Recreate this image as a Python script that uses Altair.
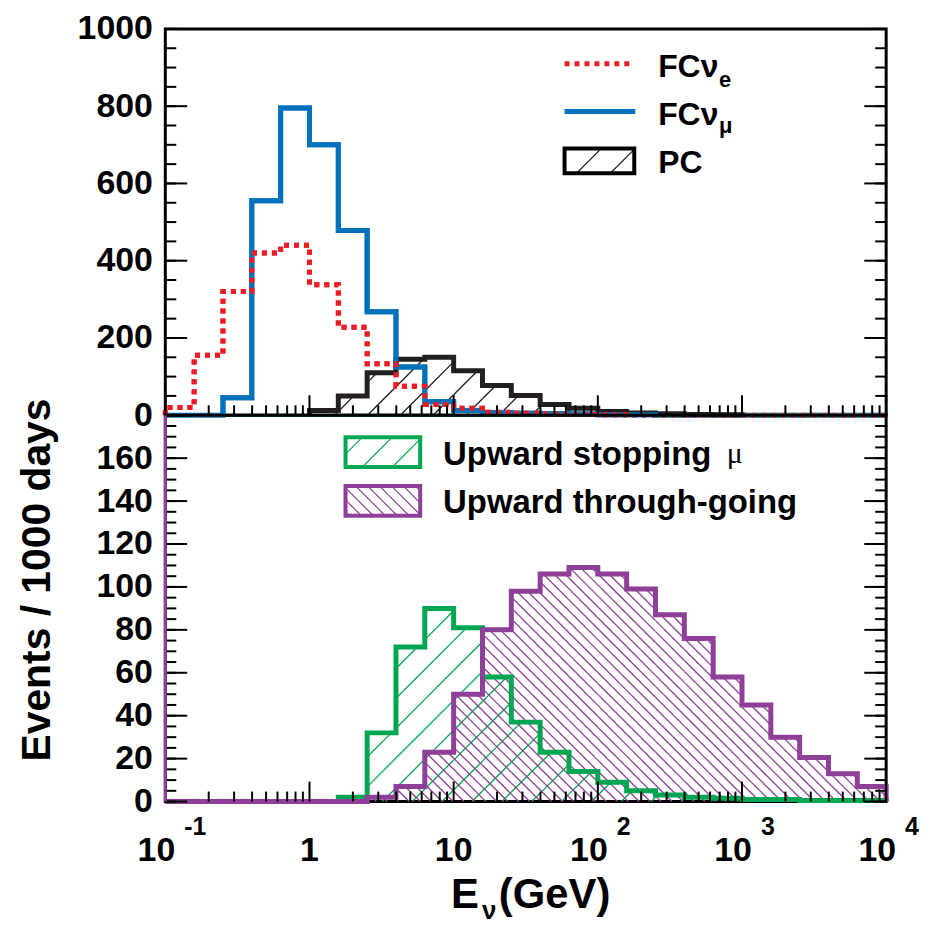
import math
import altair as alt
import pandas as pd

FONT = "Liberation Sans"
SERIF = "Liberation Serif"
BLACK = "#231f20"
RED = "#ed1c24"
BLUE = "#0072bc"
GREEN = "#00a651"
PURPLE = "#8e3f97"

# ------------------------------------------------------------------ data
# bin edges: 5 logarithmic bins per decade, 0.1 GeV .. 10^4 GeV (log10 of the edges)
EDGE_LOG = [-1 + k / 5 for k in range(26)]

FC_NUE = [20, 155, 320, 420, 440, 338, 228, 133, 75, 28, 18, 8, 5, 3, 2, 1,
          0, 0, 0, 0, 0, 0, 0, 0, 0]
FC_NUMU = [0, 0, 45, 555, 795, 700, 478, 268, 125, 35, 12, 7, 5, 4, 3, 1, 1,
           0, 0, 0, 0, 0, 0, 0, 0]
PC = [0, 0, 0, 0, 0, 12, 50, 110, 145, 150, 115, 77, 51, 28, 18, 10, 6, 4, 2, 1,
      0, 0, 0, 0, 0]
UP_STOP = [0, 0, 0, 0, 0, 0, 2, 32, 72, 90, 81, 58, 37, 23, 14, 9, 5, 3, 2, 1.5,
           1, 1, 0.5, 0.5, 0.5]
UP_THRU = [0, 0, 0, 0, 0, 0, 0, 2, 7, 23, 50, 80, 98, 106, 109, 106, 99, 87, 76,
           58, 45, 30, 20.5, 13, 7]

X_MAJOR = [0.1, 1, 10, 100, 1000, 10000]
X_MINOR = [m * 10.0 ** d for d in range(-1, 4) for m in range(2, 10)]
TOP_LABELS = [0, 200, 400, 600, 800, 1000]
TOP_MAJOR = [0, 200, 400, 600, 800, 1000]
TOP_MINOR = list(range(0, 1001, 50))
BOT_LABELS = [0, 20, 40, 60, 80, 100, 120, 140, 160]
BOT_MAJOR = list(range(0, 181, 20))
BOT_MINOR = list(range(0, 181, 5))
XLAB_PLAIN_V = [1, 10]
XLAB_PLAIN_T = ["1", "10"]
XLAB_EXP_V = [0.1, 100, 1000, 10000]
XLAB_EXP_B = ["10", "10", "10", "10"]
XLAB_EXP_E = ["-1", "2", "3", "4"]

# ------------------------------------------------------------------ layout
W, H1, H2 = 724, 388, 388
TOP_MAX, BOT_MAX = 1000, 180
UMIN, UMAX = -1.0, 4.0
PPD = W / (UMAX - UMIN)
DUMMY = pd.DataFrame({"d": [0]})

xscale = alt.Scale(type="log", domain=[0.1, 10000], nice=False)


def X(f):
    return alt.X(f"{f}:Q", scale=xscale, axis=None)


def make_y(ymax, labels, title):
    sc = alt.Scale(domain=[0, ymax], nice=False, zero=False)
    kw = dict(values=labels, format="d", ticks=False, tickSize=0, domain=False,
              grid=False, labelFont=FONT, labelFontSize=34, labelFontWeight="bold",
              labelColor="black", labelPadding=13)
    if title:
        ax = alt.Axis(title=title, titleFont=FONT, titleFontSize=41,
                      titleFontWeight="bold", titleColor="black", titleAngle=270,
                      titleX=-128, titleY=165, titleAlign="center",
                      titleBaseline="middle", **kw)
    else:
        ax = alt.Axis(title=None, **kw)

    def Y(f):
        return alt.Y(f"{f}:Q", scale=sc, axis=ax)
    return Y


def step_df(values, trim=False):
    lo, hi = 0, len(values) - 1
    if trim:
        nz = [i for i, v in enumerate(values) if v > 0]
        lo, hi = nz[0], nz[-1]
    xs, ys = [10 ** EDGE_LOG[lo]], [0]
    for i in range(lo, hi + 1):
        xs += [10 ** EDGE_LOG[i], 10 ** EDGE_LOG[i + 1]]
        ys += [values[i], values[i]]
    xs.append(10 ** EDGE_LOG[hi + 1])
    ys.append(0)
    return pd.DataFrame({"x": xs, "y": ys, "o": list(range(len(xs)))})


def hatch_segments(rects, spacing, direction, phase=0.0):
    """rects in math coords (y up): (x0, x1, y0, y1); returns list of segments."""
    rects = [r for r in rects if r[3] > r[2]]
    if not rects:
        return []
    xmin = min(r[0] for r in rects)
    xmax = max(r[1] for r in rects)
    ymin = min(r[2] for r in rects)
    ymax = max(r[3] for r in rects)
    if direction == "/":
        cmin, cmax = xmin - ymax, xmax - ymin
    else:
        cmin, cmax = xmin + ymin, xmax + ymax
    k0 = math.floor((cmin - phase) / spacing)
    k1 = math.ceil((cmax - phase) / spacing)
    segs = []
    for k in range(k0, k1 + 1):
        c = phase + k * spacing
        for (x0, x1, y0, y1) in rects:
            if direction == "/":
                a, b = max(x0, y0 + c), min(x1, y1 + c)
                if b - a > 1e-6:
                    segs.append((a, a - c, b, b - c))
            else:
                a, b = max(x0, c - y1), min(x1, c - y0)
                if b - a > 1e-6:
                    segs.append((a, c - a, b, c - b))
    return segs


def hist_hatch(values, ymax, H, spacing, direction, phase=0.0):
    rects = []
    for i, v in enumerate(values):
        x0 = (EDGE_LOG[i] - UMIN) * PPD
        x1 = (EDGE_LOG[i + 1] - UMIN) * PPD
        rects.append((x0, x1, 0.0, v * H / ymax))
    segs = hatch_segments(rects, spacing, direction, phase)
    rows = []
    for (a, ya, b, yb) in segs:
        rows.append({"x": 10 ** (UMIN + a / PPD), "y": ya * ymax / H,
                     "x2": 10 ** (UMIN + b / PPD), "y2": yb * ymax / H})
    return pd.DataFrame(rows)


def legend_hatch(sx0, sx1, sy0, sy1, spacing, direction, color, phase=0.0, sw=1.2):
    segs = hatch_segments([(sx0, sx1, -sy1, -sy0)], spacing, direction, phase)
    out = []
    for (a, ya, b, yb) in segs:
        out.append(alt.Chart(DUMMY).mark_rule(color=color, strokeWidth=sw).encode(
            x=alt.value(a), x2=alt.value(b), y=alt.value(-ya), y2=alt.value(-yb)))
    return out


def txt(s, x, y, size, align="left", font=FONT, weight="bold"):
    return alt.Chart(DUMMY).mark_text(
        text=s, align=align, baseline="alphabetic", font=font, fontSize=size,
        fontWeight=weight, color="black").encode(x=alt.value(x), y=alt.value(y))


def tick_layers(Y, H, y_major, y_minor):
    out = []
    for vals, ln in ((X_MAJOR, 20), (X_MINOR, 10)):
        out.append(alt.Chart(pd.DataFrame({"v": vals})).mark_rule(
            color="black", strokeWidth=2).encode(
            x=X("v"), y=alt.value(H), y2=alt.value(H - ln)))
    for vals, ln in ((y_major, 22), (y_minor, 11)):
        df = pd.DataFrame({"v": vals})
        out.append(alt.Chart(df).mark_rule(color="black", strokeWidth=2).encode(
            y=Y("v"), x=alt.value(0), x2=alt.value(ln)))
        out.append(alt.Chart(df).mark_rule(color="black", strokeWidth=2).encode(
            y=Y("v"), x=alt.value(W), x2=alt.value(W - ln)))
    return out


def outline(values, color, Y, dash=None, trim=False):
    kw = dict(color=color, strokeWidth=5, strokeJoin="miter", strokeCap="butt")
    if dash:
        kw["strokeDash"] = dash
    return alt.Chart(step_df(values, trim)).mark_line(**kw).encode(
        x=X("x"), y=Y("y"), order="o:Q")


def hatch_layer(values, ymax, H, spacing, direction, color, Y, phase=0.0):
    df = hist_hatch(values, ymax, H, spacing, direction, phase)
    return alt.Chart(df).mark_rule(color=color, strokeWidth=1.3).encode(
        x=X("x"), x2=alt.X2("x2"), y=Y("y"), y2=alt.Y2("y2"))


# ------------------------------------------------------------------ top panel
Yt = make_y(TOP_MAX, TOP_LABELS, None)
first_numu = next(i for i, v in enumerate(FC_NUMU) if v > 0)
zero_line = pd.DataFrame({"x": [10 ** EDGE_LOG[first_numu]],
                          "x2": [10 ** EDGE_LOG[-1]], "v": [0]})
top_layers = [
    hatch_layer(PC, TOP_MAX, H1, 33, "/", BLACK, Yt, phase=5),
    outline(FC_NUMU, BLUE, Yt),
    outline(FC_NUE, RED, Yt, dash=[5, 5]),
    alt.Chart(zero_line).mark_rule(color=GREEN, strokeWidth=3).encode(
        y=Yt("v"), x=X("x"), x2=alt.X2("x2")),
    outline(PC, BLACK, Yt, trim=True),
    outline(FC_NUMU, BLUE, Yt, trim=True),
    outline(FC_NUE, RED, Yt, dash=[5, 5], trim=True),
]
top_layers += tick_layers(Yt, H1, TOP_MAJOR, TOP_MINOR)
# legend
top_layers += [
    alt.Chart(DUMMY).mark_rule(color=RED, strokeWidth=5, strokeDash=[5, 5]).encode(
        x=alt.value(401), x2=alt.value(466), y=alt.value(35)),
    alt.Chart(DUMMY).mark_rule(color=BLUE, strokeWidth=5).encode(
        x=alt.value(401), x2=alt.value(472), y=alt.value(83)),
]
top_layers += legend_hatch(401, 471, 120, 145, 34, "/", BLACK, phase=-122)
top_layers += [
    alt.Chart(DUMMY).mark_rect(fillOpacity=0, stroke="black", strokeWidth=4).encode(
        x=alt.value(401), x2=alt.value(471), y=alt.value(120), y2=alt.value(145)),
    txt("FC\u03bd", 495, 48, 32),
    txt("e", 556, 58, 22),
    txt("FC\u03bd", 495, 96, 32),
    txt("\u03bc", 556, 105, 22),
    txt("PC", 495, 145, 32),
]
top = alt.layer(*top_layers).properties(width=W, height=H1)

# ------------------------------------------------------------------ bottom panel
Yb = make_y(BOT_MAX, BOT_LABELS, "Events / 1000 days")
bot_layers = [
    hatch_layer(UP_STOP, BOT_MAX, H2, 30, "/", GREEN, Yb, phase=8),
    hatch_layer(UP_THRU, BOT_MAX, H2, 11, "\\", PURPLE, Yb, phase=3),
    outline(UP_STOP, GREEN, Yb),
    outline(UP_THRU, PURPLE, Yb),
]
bot_layers += tick_layers(Yb, H2, BOT_MAJOR, BOT_MINOR)
bot_layers += [
    alt.Chart(DUMMY).mark_rule(color=PURPLE, strokeWidth=3).encode(
        x=alt.value(0), y=alt.value(0), y2=alt.value(H2)),
]
# x tick labels
bot_layers += [
    alt.Chart(pd.DataFrame({"v": XLAB_PLAIN_V, "t": XLAB_PLAIN_T})).mark_text(
        align="center", baseline="alphabetic", font=FONT, fontSize=34,
        fontWeight="bold", color="black").encode(
        x=X("v"), y=alt.value(H2 + 60), text="t:N"),
    alt.Chart(pd.DataFrame({"v": XLAB_EXP_V, "t": XLAB_EXP_B})).mark_text(
        align="right", baseline="alphabetic", font=FONT, fontSize=34, dx=10,
        fontWeight="bold", color="black").encode(
        x=X("v"), y=alt.value(H2 + 60), text="t:N"),
    alt.Chart(pd.DataFrame({"v": XLAB_EXP_V, "t": XLAB_EXP_E})).mark_text(
        align="left", baseline="alphabetic", font=FONT, fontSize=25, dx=19,
        fontWeight="bold", color="black").encode(
        x=X("v"), y=alt.value(H2 + 34), text="t:N"),
    txt("E", 315, H2 + 107, 42, align="right"),
    txt("\u03bd", 318, H2 + 118, 26),
    txt("(GeV)", 335, H2 + 107, 42),
]
# legend
bot_layers += legend_hatch(181, 256, 22, 52, 30, "/", GREEN, phase=-200)
bot_layers += legend_hatch(181, 256, 71, 101, 12, "\\", PURPLE, phase=0)
bot_layers += [
    alt.Chart(DUMMY).mark_rect(fillOpacity=0, stroke=GREEN, strokeWidth=4).encode(
        x=alt.value(181), x2=alt.value(256), y=alt.value(22), y2=alt.value(52)),
    alt.Chart(DUMMY).mark_rect(fillOpacity=0, stroke=PURPLE, strokeWidth=4).encode(
        x=alt.value(181), x2=alt.value(256), y=alt.value(71), y2=alt.value(101)),
    txt("Upward stopping", 279, 50, 33),
    txt("\u03bc", 564, 48, 30, font=SERIF, weight="normal"),
    txt("Upward through-going", 279, 98, 33),
]
bottom = alt.layer(*bot_layers).properties(width=W, height=H2)

chart = alt.vconcat(top, bottom, spacing=0, bounds="flush").properties(
    padding={"left": 7, "top": 0, "right": 2, "bottom": 0},
    background="white",
).configure_view(stroke="black", strokeWidth=3)

chart.save("out.html", embed_options={"renderer": "svg", "actions": False})
